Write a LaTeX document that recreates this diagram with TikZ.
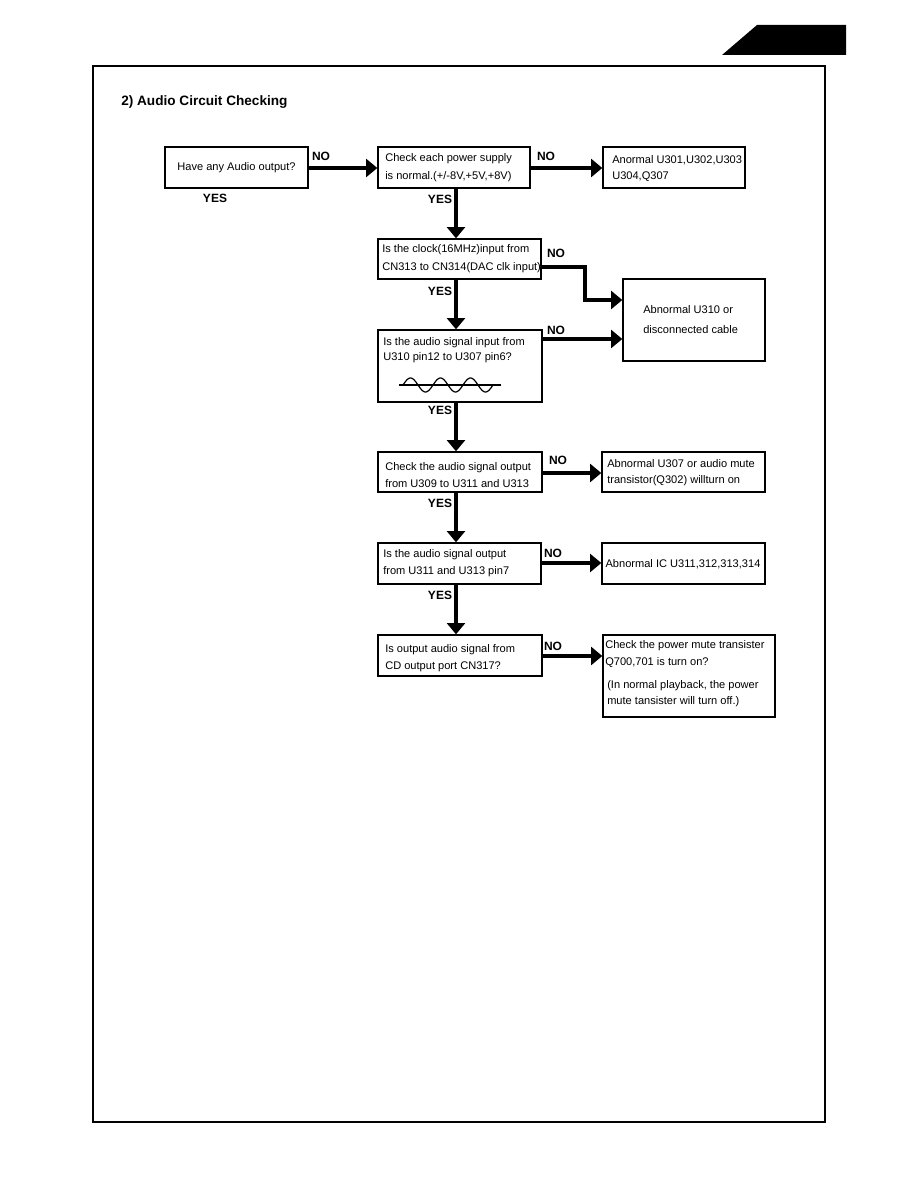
\documentclass[tikz,border=0pt]{standalone}
\usepackage{fontspec}
\setmainfont{Liberation Sans}
\usetikzlibrary{arrows.meta,fit}
\tikzset{
  box/.style={draw, line width=1pt, inner sep=0pt},
  txt/.style={inner sep=0pt, align=left, anchor=west, font=\fontsize{8.3}{12.5}\selectfont},
  ctxt/.style={inner sep=0pt, align=center, font=\fontsize{8.3}{12.5}\selectfont},
  lbl/.style={inner sep=0pt, font=\fontsize{9}{10}\selectfont\bfseries},
  arr/.style={line width=3.6pt, -{Triangle[length=8.5pt,width=13.5pt]}},
  thick line/.style={line width=3.6pt}
}
\begin{document}
\begin{tikzpicture}[x=0.75pt,y=-0.75pt]
\useasboundingbox (0,0) rectangle (918,1188);
% corner tab
\fill (722,55) -- (757,25) -- (846,25) -- (846,55) -- cycle;
% frame
\node[box, line width=1.1pt, fit={(93,66) (825,1122)}] (frame) {};
\node[lbl, anchor=west, font=\fontsize{10.2}{12}\selectfont\bfseries] (title) at (121,102) {2) Audio Circuit Checking};

% boxes
\node[box, fit={(165,147) (308,188)}] (A) {};
\node[ctxt] (At) at (A.center) {Have any Audio output?};
\node[box, fit={(378,147) (530,188)}] (B) {};
\node[txt, font=\fontsize{8.3}{13.5}\selectfont] (Bt) at (385,168) {Check each power supply\\is normal.(+/-8V,+5V,+8V)};
\node[box, fit={(603,147) (745,188)}] (C) {};
\node[txt] (Ct) at (612,168.5) {Anormal U301,U302,U303\\U304,Q307};
\node[box, fit={(378,239) (541,279)}] (D) {};
\node[txt, font=\fontsize{8.3}{13.5}\selectfont] (Dt) at (382,259) {Is the clock(16MHz)input from\\CN313 to CN314(DAC clk input)};
\node[box, fit={(623,279) (765,361)}] (E) {};
\node[txt, font=\fontsize{8.3}{15}\selectfont] (Et) at (643,320) {Abnormal U310 or\\disconnected cable};
\node[box, fit={(378,330) (542,402)}] (F) {};
\node[txt, font=\fontsize{8.3}{11.5}\selectfont] (Ft) at (383,350) {Is the audio signal input from\\U310 pin12 to U307 pin6?};
\node[box, fit={(378,452) (542,492)}] (G) {};
\node[txt] (Gt) at (385,475) {Check the audio signal output\\from U309 to U311 and U313};
\node[box, fit={(602,452) (765,492)}] (H) {};
\node[txt] (Ht) at (607,472.5) {Abnormal U307 or audio mute\\transistor(Q302) willturn on};
\node[box, fit={(378,543) (541,584)}] (I) {};
\node[txt] (It) at (383,563) {Is the audio signal output\\from U311 and U313 pin7};
\node[box, fit={(602,543) (765,584)}] (J) {};
\node[ctxt] (Jt) at (683,564) {Abnormal IC U311,312,313,314};
\node[box, fit={(378,635) (542,676)}] (K) {};
\node[txt] (Kt) at (385,658) {Is output audio signal from\\CD output port CN317?};
\node[box, fit={(603,635) (775,717)}] (L) {};
\node[txt] (Lt1) at (605,654) {Check the power mute transister\\Q700,701 is turn on?};
\node[txt] (Lt2) at (607,693.5) {(In normal playback, the power\\mute tansister will turn off.)};

% sine symbol
\draw[line width=0.9pt] (399,385) -- (501,385);
\draw[line width=0.9pt] plot[domain=0:3, samples=120, smooth] ({403+30*\x}, {385-7*sin(360*\x)});

% NO arrows
\draw[arr] (A.east |- 0,168) -- (B.west |- 0,168);
\draw[arr] (B.east |- 0,168) -- (C.west |- 0,168);
\coordinate (d1) at (585,267);
\coordinate (d2) at (585,300);
\draw[arr] (D.east |- d1) -- (d1) -- (d2) -- (E.west |- d2);
\draw[arr] (F.east |- 0,339) -- (E.west |- 0,339);
\draw[arr] (G.east |- 0,473) -- (H.west |- 0,473);
\draw[arr] (I.east |- 0,563) -- (J.west |- 0,563);
\draw[arr] (K.east |- 0,656) -- (L.west |- 0,656);

% YES arrows
\draw[arr] (B.south -| 456,0) -- (D.north -| 456,0);
\draw[arr] (D.south -| 456,0) -- (F.north -| 456,0);
\draw[arr] (F.south -| 456,0) -- (G.north -| 456,0);
\draw[arr] (G.south -| 456,0) -- (I.north -| 456,0);
\draw[arr] (I.south -| 456,0) -- (K.north -| 456,0);

% labels
\node[lbl] (noA) at (321,156) {NO};
\node[lbl] (yesA) at (215,198) {YES};
\node[lbl] (noB) at (546,156) {NO};
\node[lbl] (yesB) at (440,199) {YES};
\node[lbl] (noD) at (556,253) {NO};
\node[lbl] (yesD) at (440,291) {YES};
\node[lbl] (noF) at (556,330) {NO};
\node[lbl] (yesF) at (440,410) {YES};
\node[lbl] (noG) at (558,460) {NO};
\node[lbl] (yesG) at (440,503) {YES};
\node[lbl] (noI) at (553,553) {NO};
\node[lbl] (yesI) at (440,595) {YES};
\node[lbl] (noK) at (553,646) {NO};
\end{tikzpicture}
\end{document}
